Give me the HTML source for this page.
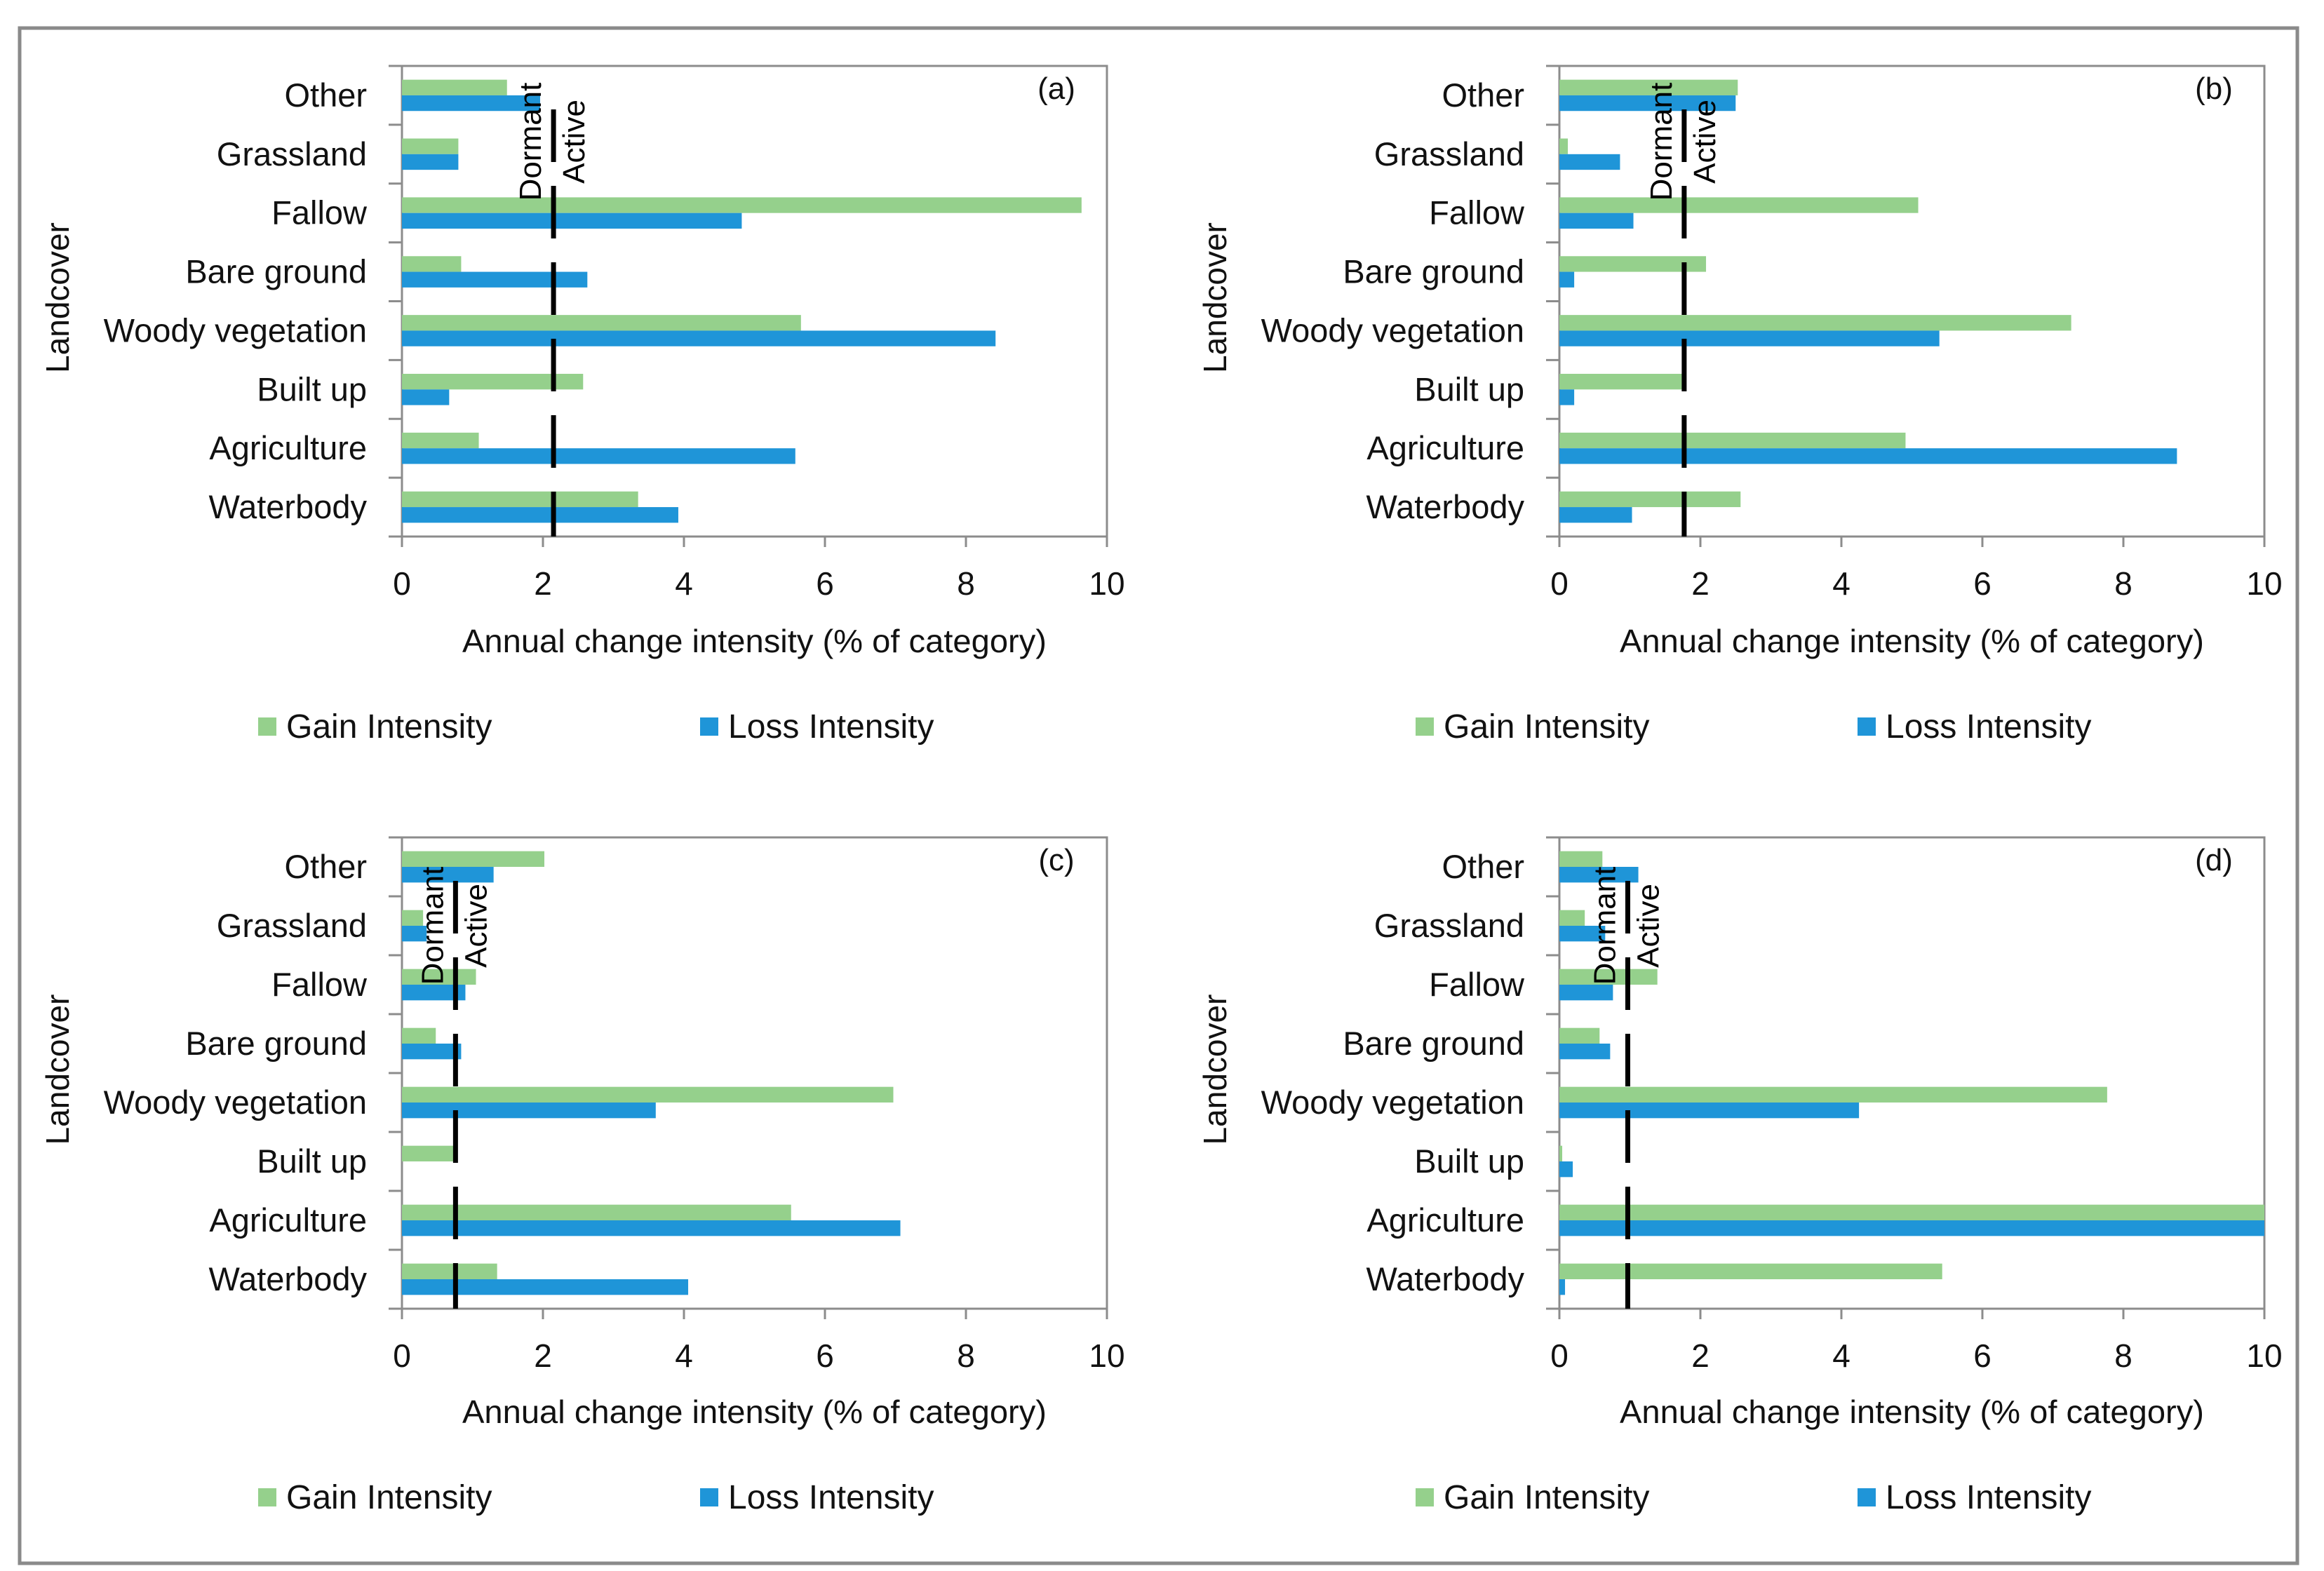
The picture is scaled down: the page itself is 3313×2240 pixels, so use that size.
<!DOCTYPE html>
<html><head><meta charset="utf-8"><style>
html,body{margin:0;padding:0;background:#fff;}
svg{display:block;font-family:"Liberation Sans",sans-serif;}
</style></head><body>
<svg id="chart" width="3313" height="2240" viewBox="0 0 3313 2240">
<rect x="28" y="40" width="3247" height="2189" fill="#fff" stroke="#8a8a8a" stroke-width="5"/>
</svg>
<script>
const categories = ["Other","Grassland","Fallow","Bare ground","Woody vegetation","Built up","Agriculture","Waterbody"];
const xTicks = [0,2,4,6,8,10];
const panelLetters = ["(a)","(b)","(c)","(d)"];
const gainA = [1.49,0.8,9.64,0.84,5.66,2.57,1.09,3.35];
const lossA = [1.96,0.8,4.82,2.63,8.42,0.67,5.58,3.92];
const gainB = [2.53,0.12,5.09,2.08,7.26,1.77,4.91,2.57];
const lossB = [2.5,0.86,1.05,0.21,5.39,0.21,8.76,1.03];
const gainC = [2.02,0.3,1.05,0.48,6.97,0.74,5.52,1.35];
const lossC = [1.3,0.35,0.9,0.84,3.6,0,7.07,4.06];
const gainD = [0.61,0.36,1.39,0.57,7.77,0.04,10.5,5.43];
const lossD = [1.12,0.65,0.76,0.72,4.25,0.19,10.5,0.08];
const thresholds = [2.15,1.77,0.76,0.97];
const gains = [gainA,gainB,gainC,gainD];
const losses = [lossA,lossB,lossC,lossD];

const NS = "http://www.w3.org/2000/svg";
const svg = document.getElementById("chart");
function mk(tag, attrs, parent){
  const e = document.createElementNS(NS, tag);
  for (const k in attrs) e.setAttribute(k, attrs[k]);
  (parent||svg).appendChild(e);
  return e;
}
const layouts = [
  {left:573, top:94, bottom:765, dy:0, dormY:202},
  {left:2223, top:94, bottom:765, dy:0, dormY:202},
  {left:573, top:1194, bottom:1866, dy:1099, dormY:1320},
  {left:2223, top:1194, bottom:1866, dy:1099, dormY:1320}
];
const W = 1005, XMAX = 10;
const GREEN = "#95d08c", BLUE = "#1f95d8";

layouts.forEach((L, p) => {
  const g = mk("g", {});
  
  
  const xs = v => L.left + Math.min(v, XMAX) / XMAX * W;
  const band = (L.bottom - L.top) / categories.length;
  const by = i => L.top + i * band;

  const fr = mk("rect", {x:L.left, y:L.top, width:W, height:L.bottom-L.top, fill:"none", stroke:"#8c8c8c", "stroke-width":3}, g);
  
  

  categories.forEach((c, i) => {
    const mid = by(i) + band / 2;
    const bh = band * 0.266;
    const gb = mk("rect", {x:L.left, y:mid - bh, width:xs(gains[p][i]) - L.left, height:bh, fill:GREEN}, g);
    
    
    const lb = mk("rect", {x:L.left, y:mid, width:xs(losses[p][i]) - L.left, height:bh, fill:BLUE}, g);
    
    
    const t = mk("text", {x:L.left - 50, y:mid + 16, "text-anchor":"end", "font-size":47, fill:"#111"}, g);
    t.textContent = c;
    
    
  });
  for (let i = 0; i <= categories.length; i++) {
    const tk = mk("line", {x1:L.left - 19, x2:L.left, y1:by(i), y2:by(i), stroke:"#8c8c8c", "stroke-width":3}, g);
    
    
  }
  xTicks.forEach(v => {
    const tk = mk("line", {x1:xs(v), x2:xs(v), y1:L.bottom, y2:L.bottom + 15, stroke:"#8c8c8c", "stroke-width":3}, g);
    
    
    const t = mk("text", {x:xs(v), y:L.bottom + 83, "text-anchor":"middle", "font-size":46, fill:"#111"}, g);
    t.textContent = v;
    
    
  });
  const tx = xs(thresholds[p]);
  const dl = mk("line", {x1:tx, x2:tx, y1:L.top + 62, y2:L.bottom, stroke:"#000", "stroke-width":7, "stroke-dasharray":"75 34"}, g);
  
  
  const dt = mk("text", {x:0, y:0, "text-anchor":"middle", "font-size":44, fill:"#000", transform:`translate(${tx-18},${L.dormY}) rotate(-90)`}, g);
  dt.textContent = "Dormant";
  
  
  const at = mk("text", {x:0, y:0, "text-anchor":"middle", "font-size":44, fill:"#000", transform:`translate(${tx+44},${L.dormY}) rotate(-90)`}, g);
  at.textContent = "Active";
  
  
  const pl = mk("text", {x:L.left + W - 72, y:L.top + 47, "text-anchor":"middle", "font-size":44, fill:"#111"}, g);
  pl.textContent = panelLetters[p];
  
  
  const xt = mk("text", {x:L.left + W/2, y:930 + L.dy, "text-anchor":"middle", "font-size":46, fill:"#111", textLength:833, lengthAdjust:"spacingAndGlyphs"}, g);
  xt.textContent = "Annual change intensity (% of category)";
  
  
  const yt = mk("text", {x:0, y:0, "text-anchor":"middle", "font-size":46, fill:"#111", transform:`translate(${L.left - 475},${(L.top+L.bottom)/2 - 5}) rotate(-90)`}, g);
  yt.textContent = "Landcover";
  
  
  const ly = 1036 + L.dy;
  const gs = mk("rect", {x:L.left - 205, y:ly - 13, width:26, height:26, fill:GREEN}, g);
  
  
  const gt = mk("text", {x:L.left - 165, y:ly + 16, "font-size":48, fill:"#111"}, g);
  gt.textContent = "Gain Intensity";
  
  
  const ls = mk("rect", {x:L.left + 425, y:ly - 13, width:26, height:26, fill:BLUE}, g);
  
  
  const lt = mk("text", {x:L.left + 465, y:ly + 16, "font-size":48, fill:"#111"}, g);
  lt.textContent = "Loss Intensity";
  
  
});
</script>
</body></html>
